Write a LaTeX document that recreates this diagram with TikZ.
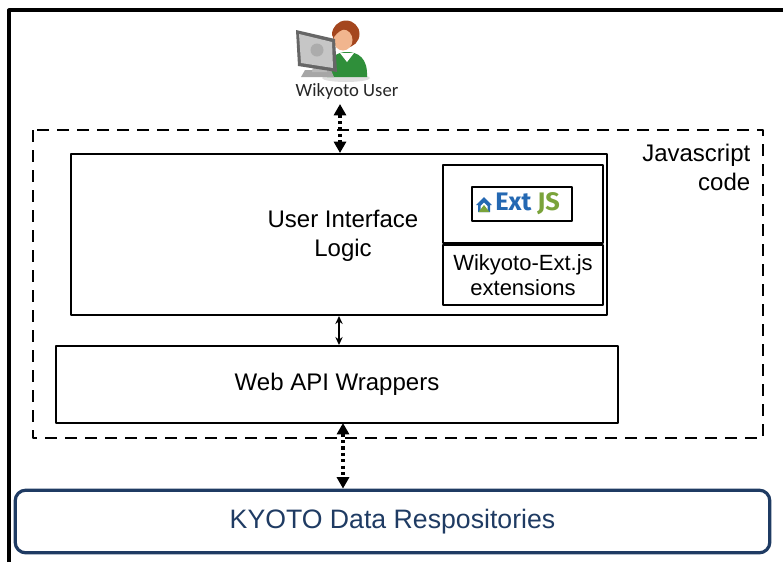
\documentclass[tikz,border=0pt]{standalone}
\usepackage{fontspec}
\setmainfont{Liberation Sans}
\newfontfamily\userfont{Carlito}
\newfontfamily\logofont{Fira Sans}
\usetikzlibrary{arrows.meta,positioning}

\definecolor{repoblue}{HTML}{1F3B63}
\definecolor{extblue}{HTML}{2468B2}
\definecolor{extgreen}{HTML}{7AA33A}
\definecolor{shirt}{HTML}{2F8F3A}
\definecolor{hair}{HTML}{A4461E}
\definecolor{skin}{HTML}{F1B58E}

\tikzset{
  layerbox/.style={draw,line width=1.5pt,inner sep=0pt},
  bigtext/.style={font=\fontsize{18}{21.75}\selectfont,align=center},
  dotlink/.style={line width=2.4pt,dash pattern=on 2.4pt off 2.4pt,
    {Triangle[length=8.5pt,width=9pt]}-{Triangle[length=8.5pt,width=9pt]}},
  solidlink/.style={line width=1.3pt,{Stealth[length=6pt,width=5.5pt]}-{Stealth[length=6pt,width=5.5pt]}}
}

\begin{document}
\begin{tikzpicture}[x=0.75pt,y=-0.75pt,line join=round]
  \useasboundingbox (0,0) rectangle (783,562);
  % frame on top and left
  \draw[line width=2.4pt] (9,562) -- (9,10) -- (783,10);

  % javascript part
  \draw[line width=1.5pt,dash pattern=on 9pt off 6pt] (33,130) rectangle (763,438);
  \node[bigtext,anchor=north east,align=right] (jsnote) at (755,139) {Javascript\\code};

  % user icon
  \fill[gray!25] (346,78) ellipse (24 and 4);
  \fill[shirt] (327,77) .. controls (327,57) and (337,52) .. (347,52)
    .. controls (358,52) and (368,58) .. (367,77) -- cycle;
  \fill[white] (340,53) -- (347,62) -- (354,53) -- cycle;
  \fill[hair] (346,34) circle (13.5);
  \fill[skin] (343,40) ellipse (9.5 and 10.5);
  \fill[hair] (332,35) .. controls (332,19) and (354,17) .. (359,31)
    .. controls (351,27) and (341,27) .. (334,37) -- cycle;
  \fill[gray!70] (301,77) -- (334,77) -- (331,70) -- (305,70) -- cycle;
  \fill[gray!55] (312,72) -- (327,72) -- (328,55) -- (315,55) -- cycle;
  \fill[gray!80!black] (296,30) -- (335,39) -- (337,72) -- (298,66) -- cycle;
  \fill[gray!45] (299,34) -- (332,42) -- (333,68) -- (301,63) -- cycle;
  \fill[gray!65] (317,50) circle (6.5);
  \node[font=\userfont\fontsize{14}{16}\selectfont,text=black!85] (user) at (347,92) {Wikyoto User};
  \coordinate (userlink) at (340,104);

  % user interface with the Ext JS part
  \node[layerbox,minimum width=402pt,minimum height=120.75pt] (ui) at (339,234.5) {};
  \node[bigtext] (uitext) at (343,236) {User Interface\\Logic};
  \node[layerbox,minimum width=120pt,minimum height=58.5pt] (extlogo) at (523,204) {};
  \node[layerbox,minimum width=120pt,minimum height=45pt,below=0pt of extlogo,
    font=\fontsize{16.5}{18.75}\selectfont,align=center] (extnote) {Wikyoto-Ext.js\\extensions};
  \node[draw,line width=1.2pt,minimum width=75pt,minimum height=25.5pt] (extjs) at (522,204) {};
  \fill[extblue] (476,205) -- (484,197) -- (492,205) -- (490,205) -- (490,212)
    -- (478,212) -- (478,205) -- cycle;
  \fill[white] (480.5,206) -- (484,202.5) -- (487.5,206) -- (487.5,210.5) -- (480.5,210.5) -- cycle;
  \fill[extgreen] (478.5,212) -- (484,205) -- (489.5,212) -- cycle;
  \node[font=\logofont\bfseries\fontsize{19}{20}\selectfont,anchor=west,inner sep=0pt]
    (extname) at (495,204) {\textcolor{extblue}{Ext} \textcolor{extgreen}{JS}};

  % wrappers
  \node[layerbox,minimum width=421.5pt,minimum height=57.75pt,bigtext] (api) at (337,384.5) {Web API Wrappers};

  % data repositories
  \node[draw=repoblue,line width=2.4pt,rounded corners=8pt,minimum width=566pt,minimum height=47pt,
    text=repoblue,font=\fontsize{20}{24}\selectfont] (repo) at (392.5,521.5) {KYOTO Data Respositories};
  \coordinate (apilink) at (343,423);

  % links
  \draw[dotlink] (userlink) -- (userlink |- ui.north);
  \draw[solidlink] (ui.south) -- (ui.south |- api.north);
  \draw[dotlink] (apilink) -- (apilink |- repo.north);
\end{tikzpicture}
\end{document}
